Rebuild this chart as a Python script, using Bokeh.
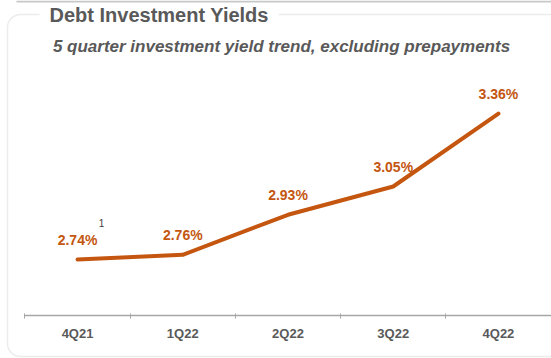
from bokeh.plotting import figure
from bokeh.models import (Range1d, LinearAxis, FixedTicker, BoxAnnotation, Label,
                          ColumnDataSource)
from bokeh.core.properties import value
from bokeh.embed import file_html
from bokeh.resources import INLINE

# Quarterly debt investment yields (excluding prepayments), in percent
quarters = ["4Q21", "1Q22", "2Q22", "3Q22", "4Q22"]
yields = [2.74, 2.76, 2.93, 3.05, 3.36]
yield_labels = [f"{v:.2f}%" for v in yields]

positions = list(range(len(quarters)))
src = ColumnDataSource(dict(x=positions, y=yields, label=yield_labels))

ORANGE = "#C4560F"
GREY_TEXT = "#595959"
GREY_LINE = "#BFBFBF"
FONT = "Liberation Sans"
AXIS_BASE = 2.502  # value at which the category axis is drawn

p = figure(width=551, height=358, output_backend="svg", toolbar_location=None,
           x_range=Range1d(-0.732, 4.504), y_range=Range1d(2.3196, 3.84),
           x_axis_type=None, y_axis_type=None,
           min_border_left=0, min_border_right=0, min_border_top=0,
           min_border_bottom=0)
p.outline_line_color = None
p.background_fill_color = "white"
p.border_fill_color = "white"

# Category axis: labels at quarter centres, small ticks on the boundaries
ax = LinearAxis(ticker=FixedTicker(ticks=positions,
                                   minor_ticks=[i - 0.5 for i in positions]),
                bounds=(-0.5, 4.504), fixed_location=AXIS_BASE)
ax.major_label_overrides = {i: q for i, q in enumerate(quarters)}
ax.axis_line_color = "#A6A6A6"
ax.axis_line_width = 1.5
ax.major_tick_line_color = None
ax.major_tick_in = 0
ax.major_tick_out = 0
ax.minor_tick_line_color = "#A6A6A6"
ax.minor_tick_in = 2
ax.minor_tick_out = 3
ax.major_label_standoff = 7
ax.major_label_text_font = FONT
ax.major_label_text_font_style = "bold"
ax.major_label_text_font_size = "13px"
ax.major_label_text_color = GREY_TEXT
p.add_layout(ax, "below")

# Yield trend line and value labels
p.line("x", "y", source=src, line_color=ORANGE, line_width=4,
       line_cap="round", line_join="round")
p.text("x", "y", text="label", source=src, y_offset=-20,
       text_align="center", text_baseline="middle",
       text_font=value(FONT), text_font_style="bold",
       text_font_size="14px", text_color=ORANGE)

# Rounded panel frame
p.add_layout(BoxAnnotation(left=7, right=640, top=14, bottom=356,
                           left_units="canvas", right_units="canvas",
                           top_units="canvas", bottom_units="canvas",
                           fill_alpha=0, line_color=GREY_LINE, line_width=1.5,
                           border_radius=13))

# Panel heading sits over the frame's top edge
p.add_layout(Label(x=39, y=14, x_units="canvas", y_units="canvas",
                   text="Debt Investment Yields", text_font=FONT,
                   text_font_style="bold", text_font_size="20px",
                   text_color=GREY_TEXT, text_baseline="middle",
                   text_align="left", background_fill_color="white",
                   padding=10))

# Thin rule along the very top
p.add_layout(BoxAnnotation(left=16, right=551, top=0, bottom=2,
                           left_units="canvas", right_units="canvas",
                           top_units="canvas", bottom_units="canvas",
                           fill_color="#C8C8C8", fill_alpha=1, line_color=None))

p.add_layout(Label(x=281, y=46, x_units="canvas", y_units="canvas",
                   text="5 quarter investment yield trend, excluding prepayments",
                   text_font=FONT, text_font_style="bold italic",
                   text_font_size="17px", text_color=GREY_TEXT,
                   text_align="center", text_baseline="middle"))

# Footnote marker next to the first value
p.add_layout(Label(x=101, y=222, x_units="canvas", y_units="canvas",
                   text="1", text_font=FONT, text_font_size="10px",
                   text_color="#404040", text_align="center",
                   text_baseline="middle"))

open("out.html", "w").write(file_html(p, INLINE))
